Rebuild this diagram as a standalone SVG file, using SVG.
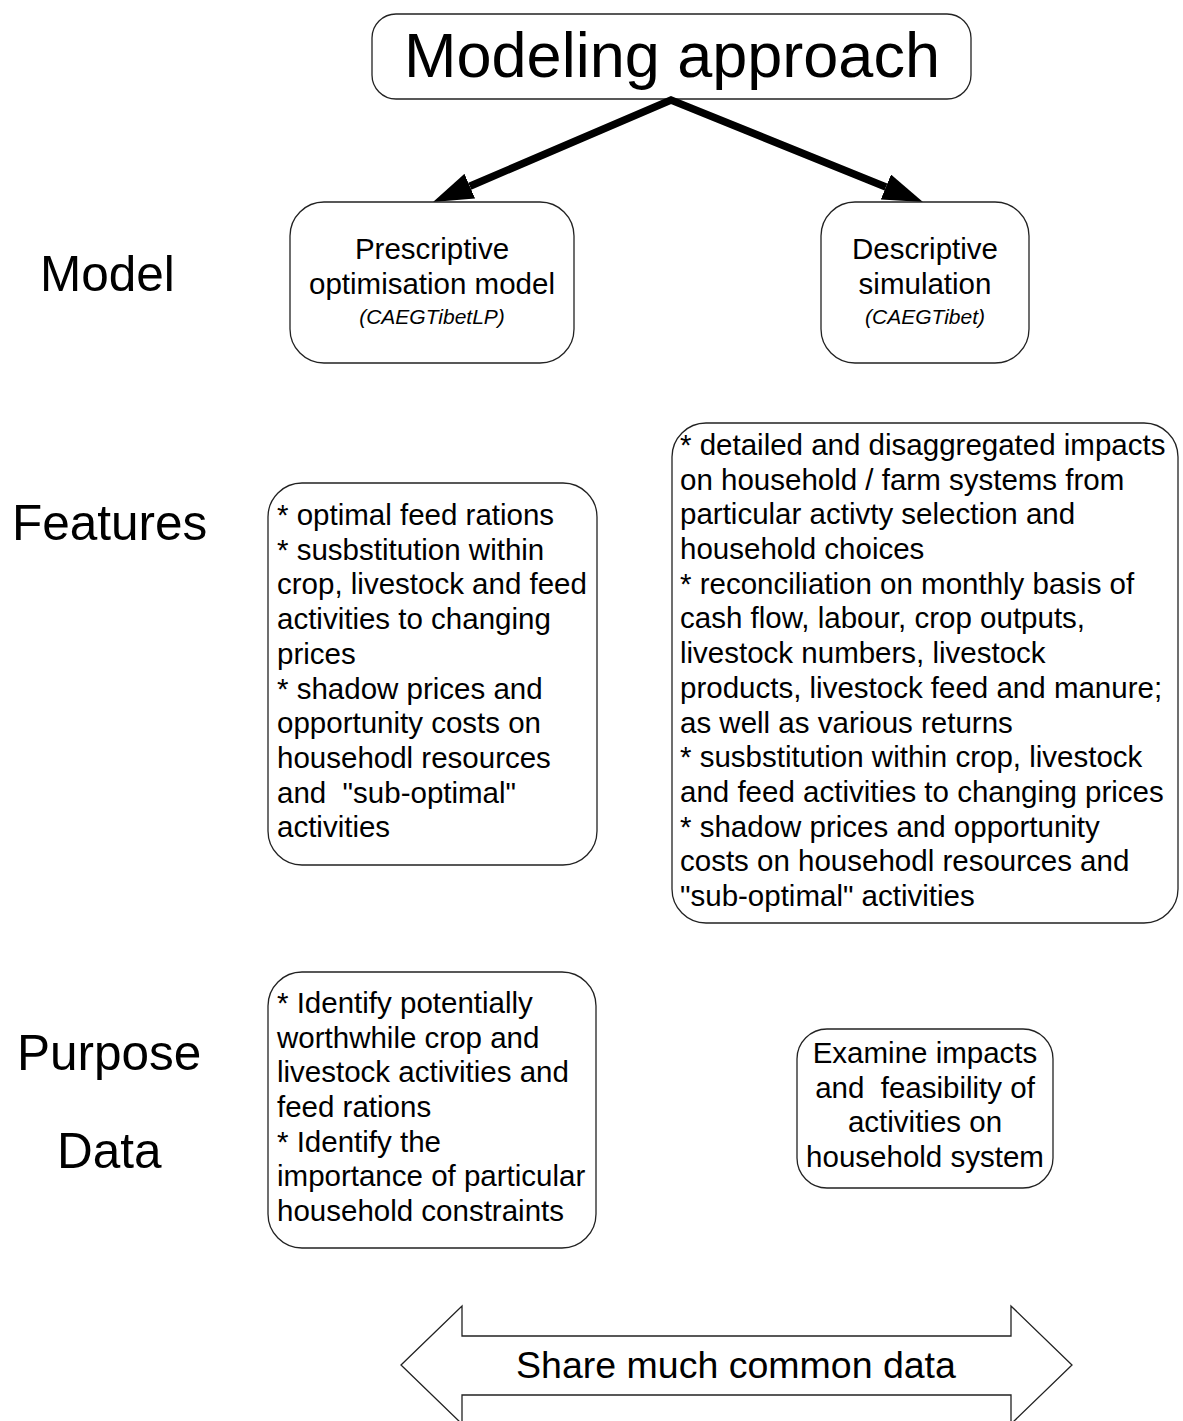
<svg xmlns="http://www.w3.org/2000/svg" width="1183" height="1421" viewBox="0 0 1183 1421">
<style>
text{font-family:"Liberation Sans",Arial,sans-serif;fill:#000}
.box{fill:#fff;stroke:#222;stroke-width:1.3}
.lbl{font-size:49.5px}
.t{font-size:29.5px}
.c{text-anchor:middle}
.it{font-size:21px;font-style:italic}
.conn{stroke:#000;stroke-width:7.5;fill:none;stroke-linejoin:miter;stroke-miterlimit:10}
</style>
<defs>
<marker id="ah" viewBox="0 0 40 27" markerWidth="40" markerHeight="27" refX="0" refY="13.5" orient="auto-start-reverse" markerUnits="userSpaceOnUse">
<path d="M0,0 L40,13.5 L0,27 z" fill="#000"/>
</marker>
</defs>
<rect width="1183" height="1421" fill="#fff"/>

<g id="labels">
<text class="lbl" x="40" y="291">Model</text>
<text class="lbl" x="12" y="540">Features</text>
<text class="lbl" x="17" y="1070">Purpose</text>
<text class="lbl" x="57" y="1168">Data</text>
</g>

<g id="title">
<rect class="box" x="372" y="14" width="599" height="85" rx="24"/>
<text class="c" x="672" y="77" style="font-size:63px">Modeling approach</text>
</g>

<g id="connectors">
<path class="conn" d="M469.8,186.2 L671,100 L885.9,187" marker-start="url(#ah)" marker-end="url(#ah)"/>
</g>

<g id="model-prescriptive">
<rect class="box" x="290" y="202" width="284" height="161" rx="34"/>
<text class="t c" x="432" y="259">Prescriptive</text>
<text class="t c" x="432" y="294">optimisation model</text>
<text class="it c" x="432" y="324">(CAEGTibetLP)</text>
</g>

<g id="model-descriptive">
<rect class="box" x="821" y="202" width="208" height="161" rx="34"/>
<text class="t c" x="925" y="259">Descriptive</text>
<text class="t c" x="925" y="294">simulation</text>
<text class="it c" x="925" y="324">(CAEGTibet)</text>
</g>

<g id="features-prescriptive">
<rect class="box" x="268" y="483" width="329" height="382" rx="34"/>
<text class="t" x="277" y="525">* optimal feed rations</text>
<text class="t" x="277" y="560">* susbstitution within</text>
<text class="t" x="277" y="594">crop, livestock and feed</text>
<text class="t" x="277" y="629">activities to changing</text>
<text class="t" x="277" y="664">prices</text>
<text class="t" x="277" y="699">* shadow prices and</text>
<text class="t" x="277" y="733">opportunity costs on</text>
<text class="t" x="277" y="768">househodl resources</text>
<text class="t" x="277" y="803" xml:space="preserve">and  "sub-optimal"</text>
<text class="t" x="277" y="837">activities</text>
</g>

<g id="features-descriptive">
<rect class="box" x="672" y="423" width="506" height="500" rx="34"/>
<text class="t" x="680" y="455">* detailed and disaggregated impacts</text>
<text class="t" x="680" y="490">on household / farm systems from</text>
<text class="t" x="680" y="524">particular activty selection and</text>
<text class="t" x="680" y="559">household choices</text>
<text class="t" x="680" y="594">* reconciliation on monthly basis of</text>
<text class="t" x="680" y="628">cash flow, labour, crop outputs,</text>
<text class="t" x="680" y="663">livestock numbers, livestock</text>
<text class="t" x="680" y="698">products, livestock feed and manure;</text>
<text class="t" x="680" y="733">as well as various returns</text>
<text class="t" x="680" y="767">* susbstitution within crop, livestock</text>
<text class="t" x="680" y="802">and feed activities to changing prices</text>
<text class="t" x="680" y="837">* shadow prices and opportunity</text>
<text class="t" x="680" y="871">costs on househodl resources and</text>
<text class="t" x="680" y="906">"sub-optimal" activities</text>
</g>

<g id="purpose-prescriptive">
<rect class="box" x="268" y="972" width="328" height="276" rx="34"/>
<text class="t" x="277" y="1013">* Identify potentially</text>
<text class="t" x="277" y="1048">worthwhile crop and</text>
<text class="t" x="277" y="1082">livestock activities and</text>
<text class="t" x="277" y="1117">feed rations</text>
<text class="t" x="277" y="1152">* Identify the</text>
<text class="t" x="277" y="1186">importance of particular</text>
<text class="t" x="277" y="1221">household constraints</text>
</g>

<g id="purpose-descriptive">
<rect class="box" x="797" y="1029" width="256" height="159" rx="30"/>
<text class="t c" x="925" y="1063">Examine impacts</text>
<text class="t c" x="925" y="1098" xml:space="preserve">and  feasibility of</text>
<text class="t c" x="925" y="1132">activities on</text>
<text class="t c" x="925" y="1167">household system</text>
</g>

<g id="data">
<path class="box" d="M401,1365 L462,1306 L462,1336 L1011,1336 L1011,1306 L1072,1365 L1011,1424 L1011,1395 L462,1395 L462,1424 Z"/>
<text class="c" x="736" y="1378" style="font-size:37.5px">Share much common data</text>
</g>
</svg>
